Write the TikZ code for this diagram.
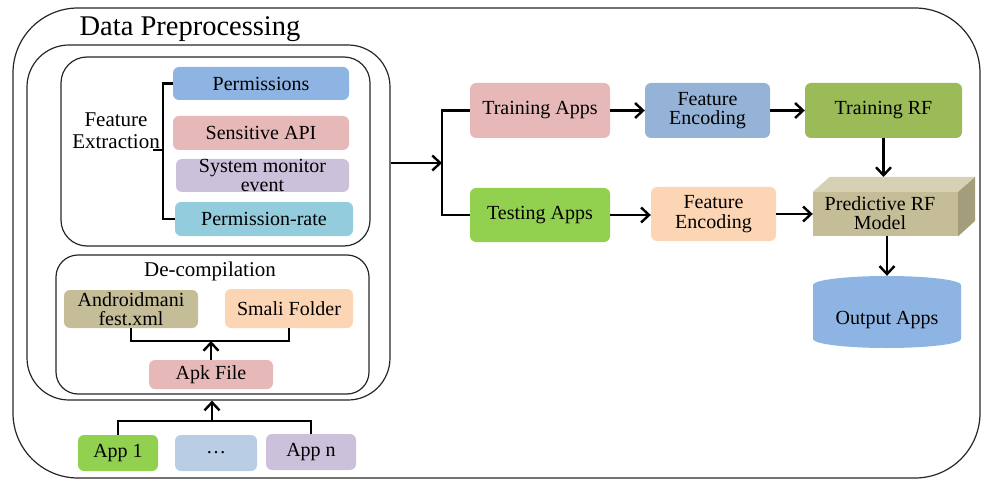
\documentclass[tikz,border=0pt]{standalone}
\usepackage{fontspec}
\setmainfont{Liberation Serif}
\usetikzlibrary{arrows.meta}

\definecolor{cPerm}{HTML}{8EB4E3}
\definecolor{cPink}{HTML}{E6B9B8}
\definecolor{cLav}{HTML}{CCC1DA}
\definecolor{cAqua}{HTML}{93CDDD}
\definecolor{cKhaki}{HTML}{C4BD97}
\definecolor{cKhakiTop}{HTML}{D6D1B4}
\definecolor{cKhakiSide}{HTML}{A39D7B}
\definecolor{cPeach}{HTML}{FCD5B5}
\definecolor{cGreen}{HTML}{92D050}
\definecolor{cIce}{HTML}{B9CDE5}
\definecolor{cSteel}{HTML}{95B3D7}
\definecolor{cOlive}{HTML}{9BBB59}

\begin{document}
\begin{tikzpicture}[x=1pt,y=-1pt,
  box/.style={rounded corners=6pt, inner sep=0pt, align=center,
    font=\fontsize{20}{19.5}\selectfont},
  frame/.style={draw=black!85, line width=1.2pt, inner sep=0pt},
  link/.style={line width=2.4pt, black},
  arr/.style={link, -{Straight Barb[length=8pt,width=15pt,line width=2.4pt]}}
]
\useasboundingbox (0,0) rectangle (987,481);

% enclosing frames
\node[frame, rounded corners=65pt, minimum width=967pt, minimum height=470pt] (outer) at (496.5,243) {};
\node[frame, rounded corners=42pt, minimum width=363pt, minimum height=355pt] (prep) at (208.5,222.5) {};
\node[frame, rounded corners=26pt, minimum width=309pt, minimum height=189pt] (fxbox) at (215.5,151.5) {};
\node[frame, rounded corners=22pt, minimum width=313pt, minimum height=139pt] (dcbox) at (212.5,324.5) {};

\node[anchor=base, font=\fontsize{28.5}{30}\selectfont] (title) at (190,36) {Data Preprocessing};

% feature extraction
\node[align=center, font=\fontsize{21}{22}\selectfont] (fx) at (116,131) {Feature\\Extraction};
\node[box, fill=cPerm, minimum width=176pt, minimum height=33pt] (perm) at (261,83.5) {Permissions};
\node[box, fill=cPink, minimum width=176pt, minimum height=34pt] (sapi) at (261,133) {Sensitive API};
\node[box, fill=cLav, minimum width=173pt, minimum height=33pt] (smon) at (262.5,175.5) {System monitor\\event};
\node[box, fill=cAqua, minimum width=178pt, minimum height=34pt] (prate) at (264,219) {Permission-rate};

\coordinate (brk) at (163,150);
\draw[link] (perm.west) -- (perm.west -| brk) -- (prate.west -| brk) -- (prate.west);
\draw[link] (brk) -- ++(-10,0);

% de-compilation
\node[anchor=base, font=\fontsize{21}{22}\selectfont] (dctitle) at (210,276) {De-compilation};
\node[box, fill=cKhaki, minimum width=134pt, minimum height=38pt] (andr) at (131,309) {Androidmani\\fest.xml};
\node[box, fill=cPeach, minimum width=128pt, minimum height=39pt] (smali) at (289,308.5) {Smali Folder};
\node[box, fill=cPink, minimum width=124pt, minimum height=29pt] (apk) at (211,374.5) {Apk File};

\coordinate (dj) at (211,341);
\draw[link] (andr.south) -- (andr.south |- dj) -| (smali.south);
\draw[arr] (apk.north) -- (dj);

% input apps
\node[box, fill=cGreen, minimum width=80pt, minimum height=36pt] (app1) at (118,453) {App 1};
\node[box, fill=cIce, minimum width=82pt, minimum height=36pt] (dots) at (216,453) {\dots};
\node[box, fill=cLav, minimum width=90pt, minimum height=36pt] (appn) at (311,452) {App n};

\coordinate (aj) at (212,421);
\draw[link] (app1.north) -- (app1.north |- aj) -| (appn.north);
\draw[arr] (aj) -- (aj |- prep.south);

% training / testing branch
\coordinate (split) at (442,163);
\draw[arr] (prep.east |- split) -- (split);

\node[box, fill=cPink, minimum width=140pt, minimum height=55pt] (train) at (540,110.5) {Training Apps};
\node[box, fill=cGreen, minimum width=140pt, minimum height=54pt] (test) at (540,215) {Testing Apps};
\node[box, fill=cSteel, minimum width=125pt, minimum height=55pt] (fe1) at (707.5,110.5) {Feature\\Encoding};
\node[box, fill=cPeach, minimum width=125pt, minimum height=54pt] (fe2) at (713.5,214) {Feature\\Encoding};
\node[box, fill=cOlive, minimum width=157pt, minimum height=55pt] (trf) at (883.5,110.5) {Training RF};

\draw[link] (train.west) -| (split) |- (test.west);

% predictive model block
\node[inner sep=0pt, fill=cKhaki, minimum width=145pt, minimum height=44pt] (pred) at (885.5,214) {};
\fill[cKhakiTop] (pred.north west) -- ++(17,-15) -- ++(145,0) -- (pred.north east) -- cycle;
\fill[cKhakiSide] (pred.north east) -- ++(17,-15) -- ++(0,44) -- (pred.south east) -- cycle;
\node[align=center, font=\fontsize{20}{19.5}\selectfont] (predlbl) at (880,213) {Predictive RF\\Model};
\coordinate (predtop) at (885.5,177);

% output store
\fill[cPerm] (813,285) -- (813,339)
  arc[start angle=180, end angle=360, x radius=74pt, y radius=9pt]
  -- (961,285)
  arc[start angle=0, end angle=180, x radius=74pt, y radius=9pt] -- cycle;
\node[inner sep=0pt, minimum width=148pt, minimum height=72pt] (out) at (887,312) {};
\node[font=\fontsize{20}{19.5}\selectfont] (outlbl) at (887,320) {Output Apps};

% flow arrows
\draw[arr] (train) -- (fe1);
\draw[arr] (fe1) -- (trf);
\draw[arr] (test.east) -- (test.east -| fe2.west);
\draw[arr] (fe2) -- (pred);
\draw[arr] (trf.south) -- (trf.south |- predtop);
\draw[arr] (out.north |- pred.south) -- (out.north);
\end{tikzpicture}
\end{document}
